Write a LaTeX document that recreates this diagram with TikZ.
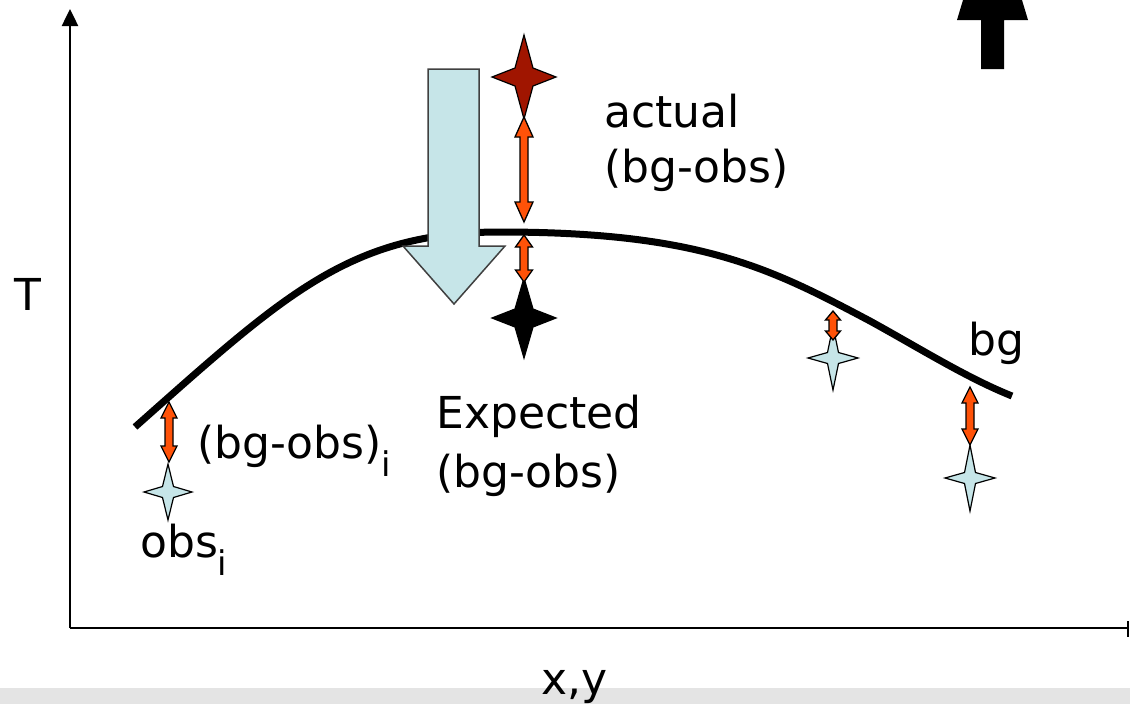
\documentclass[tikz,border=0pt]{standalone}
\usepackage{fontspec}
\setmainfont{DejaVu Sans}
\usetikzlibrary{arrows.meta}
\definecolor{lblue}{HTML}{C6E5E8}
\definecolor{dred}{HTML}{A01500}
\definecolor{orng}{HTML}{FF5208}
\definecolor{band}{HTML}{E4E4E4}
\newcommand\fourstar[6]{% x y h v r color
 \draw[starline,fill=#6] (#1,#2-#4) -- (#1+#5,#2-#5) -- (#1+#3,#2) -- (#1+#5,#2+#5) -- (#1,#2+#4) -- (#1-#5,#2+#5) -- (#1-#3,#2) -- (#1-#5,#2-#5) -- cycle;}
\newcommand\dblarrow[5]{% x ytop ybot headlen headhalf
 \draw[dblline] (#1,#2) -- (#1+#5,#2+#4) -- (#1+4,#2+#4) -- (#1+4,#3-#4) -- (#1+#5,#3-#4) -- (#1,#3) -- (#1-#5,#3-#4) -- (#1-4,#3-#4) -- (#1-4,#2+#4) -- (#1-#5,#2+#4) -- cycle;}
\tikzset{
 starline/.style={draw=black,line width=1.2pt,line join=miter},
 dblline/.style={draw=black,fill=orng,line width=1.3pt,line join=miter},
 lbl/.style={font=\fontsize{44}{44}\selectfont,inner sep=0pt,anchor=base west},
 axis/.style={line width=2.5pt},
}
\newcommand\subi{\raisebox{-18pt}{\fontsize{34}{34}\selectfont i}}
\begin{document}
\begin{tikzpicture}[x=1pt,y=-1pt]
\useasboundingbox (0,0) rectangle (1130,704);
\clip (0,0) rectangle (1130,704);
\fill[band] (0,688) rectangle (1130,704);
% axes
\coordinate (O) at (70,628);
\coordinate (ytop) at (70,9);
\coordinate (xend) at (1128,628);
\draw[axis,-{Triangle[width=16pt,length=17pt]}] (O) -- (ytop);
\draw[axis] (O) -- (xend);
\draw[axis] (1128,621) -- (1128,637);
% background curve
\coordinate (c0) at (135,427);
\coordinate (c1) at (500,232);
\coordinate (c2) at (870,321);
\coordinate (c3) at (1012,396);
\draw[line width=7pt] (c0) .. controls (285,294) and (350,232) .. (c1)
  .. controls (700,232) and (770,268) .. (c2)
  .. controls (920,348.5) and (967,378) .. (c3);
% stars
\fourstar{524}{77}{32}{42}{9}{dred}
\fourstar{524}{318}{32}{40}{9}{black}
\fourstar{168}{492}{24}{28}{5.5}{lblue}
\fourstar{833}{358}{25}{32}{5.5}{lblue}
\fourstar{970}{478}{25}{33}{5.5}{lblue}
% double arrows
\dblarrow{524}{117}{222}{20}{9}
\dblarrow{524}{235}{282}{12}{8.5}
\dblarrow{169}{402}{462}{16}{8}
\dblarrow{833}{311}{340}{9}{7.5}
\dblarrow{970}{387}{445}{16}{8}
% big light-blue arrow
\draw[fill=lblue,draw=black!75,line width=1.5pt,line join=miter] (428,69) -- (479,69) -- (479,246) -- (505,246) -- (454,304) -- (403,246) -- (428,246) -- cycle;
% black arrow top right
\fill[black] (981,69) -- (1004,69) -- (1004,20) -- (1028,20) -- (992.5,-98) -- (957,20) -- (981,20) -- cycle;
% labels
\node[lbl] (act1) at (604,127) {actual};
\node[lbl] (act2) at (604,182) {(bg-obs)};
\node[lbl] (exp1) at (436,428) {Expected};
\node[lbl] (exp2) at (436,487) {(bg-obs)};
\node[lbl] (bgobsi) at (197,458) {(bg-obs)\subi};
\node[lbl] (obsi) at (140,557) {obs\subi};
\node[lbl] (bg) at (968,355) {bg};
\node[lbl] (xy) at (541,694) {x,y};
\node[font=\fontsize{44}{44}\selectfont,inner sep=0pt] (T) at (28,294) {T};
\end{tikzpicture}
\end{document}
